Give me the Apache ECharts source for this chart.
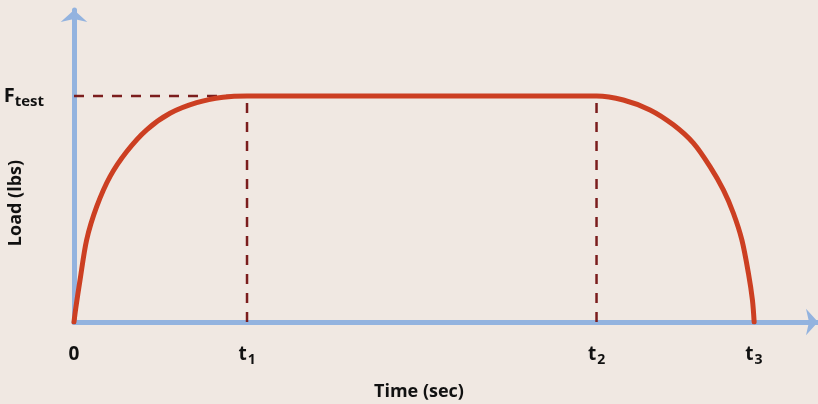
<!DOCTYPE html>
<html>
<head>
<meta charset="utf-8">
<script src="https://cdn.jsdelivr.net/npm/echarts@6/dist/echarts.min.js"></script>
<style>
html,body{margin:0;padding:0;background:#f0e8e2;}
#chart{width:818px;height:404px;}
</style>
</head>
<body>
<div id="chart"></div>
<script>
// Time marks (t1 = 1 unit)
const T1 = 1.0, T2 = 3.02, T3 = 3.93;
const xTickValues = [0, T1, T2, T3];
const xTickLabels = ['0', 't|1', 't|2', 't|3'];
const F_TEST = 1.0;
const yTickValues = [F_TEST];
const yTickLabels = ['F|test'];

// Load curve
const curveX = [0, 0.010, 0.035, 0.073, 0.131, 0.208, 0.305, 0.420, 0.555, 0.709, 0.861, 1.0,
                3.021, 3.175, 3.329, 3.464, 3.580, 3.676, 3.753, 3.811, 3.860, 3.898, 3.921, 3.931];
const curveY = [0, 0.06, 0.186, 0.363, 0.510, 0.643, 0.754, 0.850, 0.923, 0.970, 0.994, 1.0,
                1.0, 0.982, 0.938, 0.872, 0.791, 0.687, 0.584, 0.481, 0.363, 0.215, 0.097, 0];

const axisColor = '#93b3df';
const curveColor = '#cc3f22';
const dashColor = '#7b1d1d';
const font = '"Open Sans", "DejaVu Sans", sans-serif';

const chart = echarts.init(document.getElementById('chart'));

function subLabel(v, values, labels) {
  const i = values.findIndex(t => Math.abs(t - v) < 1e-6);
  if (i < 0) return '';
  const parts = labels[i].split('|');
  return parts.length > 1 ? '{m|' + parts[0] + '}{s|' + parts[1] + '}' : '{m|' + parts[0] + '}';
}

const dashStyle = {color: dashColor, width: 2.5, type: [10, 9]};

chart.setOption({
  backgroundColor: '#f0e8e2',
  animation: false,
  grid: {left: 74, right: 0, top: 10, bottom: 82},
  xAxis: {
    type: 'value', min: 0, max: 4.30,
    splitLine: {show: false},
    axisTick: {show: false},
    axisLine: {show: true, onZero: false, symbol: ['none', 'arrow'], symbolSize: [20, 12],
      lineStyle: {color: axisColor, width: 5}},
    axisLabel: {
      customValues: xTickValues, margin: 22, color: '#111', fontFamily: font,
      formatter: v => subLabel(v, xTickValues, xTickLabels),
      rich: {
        m: {fontSize: 19, fontWeight: 'bold', fontFamily: font, color: '#111', lineHeight: 22},
        s: {fontSize: 14, fontWeight: 'bold', fontFamily: font, color: '#111', lineHeight: 22, padding: [10, 0, 0, 1]}
      }
    }
  },
  yAxis: {
    type: 'value', min: 0, max: 1.38,
    splitLine: {show: false},
    axisTick: {show: false},
    axisLine: {show: true, onZero: false, symbol: ['none', 'arrow'], symbolSize: [20, 12],
      lineStyle: {color: axisColor, width: 5}},
    axisLabel: {
      customValues: yTickValues, margin: 30, color: '#111', fontFamily: font,
      formatter: v => subLabel(v, yTickValues, yTickLabels),
      rich: {
        m: {fontSize: 20, fontWeight: 'bold', fontFamily: font, color: '#111', lineHeight: 24},
        s: {fontSize: 15, fontWeight: 'bold', fontFamily: font, color: '#111', lineHeight: 24, padding: [12, 0, 0, 0]}
      }
    }
  },
  graphic: [
    {type: 'text', left: 424 - 50, top: 383, style: {text: 'Time (sec)', font: 'bold 18px ' + font, fill: '#111', width: 100, align: 'center'}},
    {type: 'text', x: 16, y: 203, rotation: Math.PI / 2,
      style: {text: 'Load (lbs)', font: 'bold 18px ' + font, fill: '#111', align: 'center', verticalAlign: 'middle'}}
  ],
  series: [
    {type: 'line', data: [[0, F_TEST], [T1, F_TEST]], symbol: 'none', lineStyle: dashStyle, z: 1, silent: true},
    {type: 'line', data: [[T1, 0], [T1, F_TEST]], symbol: 'none', lineStyle: dashStyle, z: 1, silent: true},
    {type: 'line', data: [[T2, 0], [T2, F_TEST]], symbol: 'none', lineStyle: dashStyle, z: 1, silent: true},
    {type: 'line', data: curveX.map((x, i) => [x, curveY[i]]), symbol: 'none', smooth: 0.3,
      lineStyle: {color: curveColor, width: 5, cap: 'round'}, z: 3, silent: true}
  ]
});
</script>
</body>
</html>
